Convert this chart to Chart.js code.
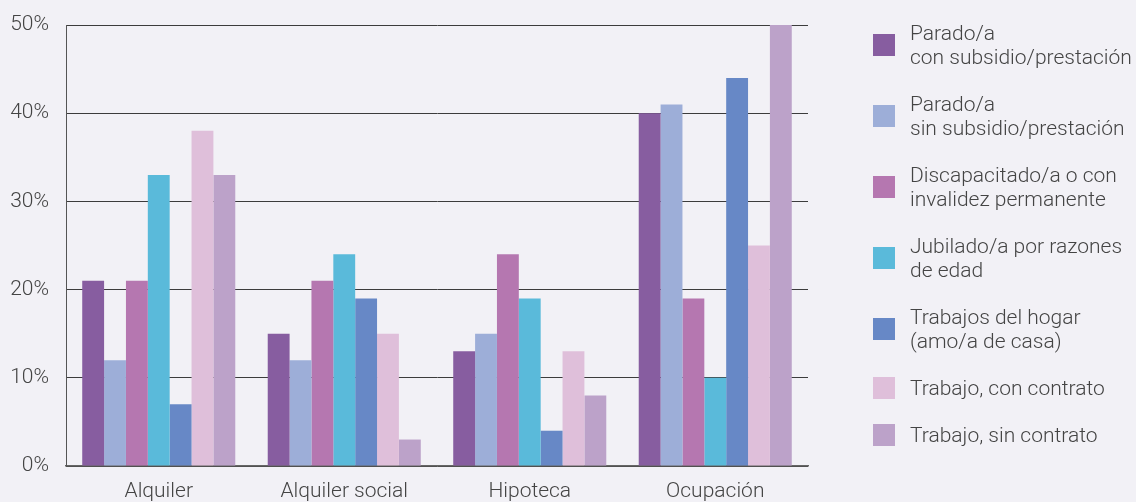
<!DOCTYPE html>
<html>
<head>
<meta charset="utf-8">
<script src="https://cdn.jsdelivr.net/npm/chart.js@4"></script>
<style>
  html, body { margin: 0; padding: 0; background: #f2f1f6; }
  #wrap { position: relative; width: 1136px; height: 502px; overflow: hidden; }
  #c { position: absolute; left: 0; top: 0; }
  #legend { position: absolute; left: 873px; top: 21px; display: flex; flex-direction: column; gap: 23px;
    font-family: Roboto, "Noto Sans", sans-serif; font-weight: 300; font-size: 21px; line-height: 24px; color: #444; }
  .item { display: flex; align-items: center; white-space: nowrap; }
  .box { width: 22px; height: 22px; flex: 0 0 22px; margin-right: 15px; }
</style>
</head>
<body>
<div id="wrap">
  <canvas id="c" width="1136" height="502"></canvas>
  <div id="legend"></div>
</div>
<script>
const categories = ["Alquiler", "Alquiler social", "Hipoteca", "Ocupación"];
const seriesNames = [
  ["Parado/a", "con subsidio/prestación"],
  ["Parado/a", "sin subsidio/prestación"],
  ["Discapacitado/a o con", "invalidez permanente"],
  ["Jubilado/a por razones", "de edad"],
  ["Trabajos del hogar", "(amo/a de casa)"],
  ["Trabajo, con contrato"],
  ["Trabajo, sin contrato"]
];
const paradoCon      = [21, 15, 13, 40];
const paradoSin      = [12, 12, 15, 41];
const discapacitado  = [21, 21, 24, 19];
const jubilado       = [33, 24, 19, 10];
const trabajosHogar  = [7, 19, 4, 44];
const trabajoCon     = [38, 15, 13, 25];
const trabajoSin     = [33, 3, 8, 50];
const colors = ["#875da0", "#9daed8", "#b577b0", "#5abada", "#6788c6", "#dfbfda", "#bca2c9"];
const yTicks = [0, 10, 20, 30, 40, 50];

const seriesValues = [paradoCon, paradoSin, discapacitado, jubilado, trabajosHogar, trabajoCon, trabajoSin];

const font = { family: "Roboto, 'Noto Sans', sans-serif", size: 21, weight: 300 };

const bgPlugin = {
  id: 'bg',
  beforeDraw(chart) {
    const ctx = chart.ctx;
    ctx.save();
    ctx.fillStyle = '#f2f1f6';
    ctx.fillRect(0, 0, chart.width, chart.height);
    ctx.restore();
  }
};

new Chart(document.getElementById('c'), {
  type: 'bar',
  data: {
    labels: categories,
    datasets: seriesValues.map((vals, i) => ({
      label: seriesNames[i].join(' '),
      data: vals,
      backgroundColor: colors[i],
      borderWidth: 0,
      barPercentage: 1.0,
      categoryPercentage: 0.825
    }))
  },
  options: {
    responsive: false,
    animation: false,
    devicePixelRatio: 1,
    layout: { padding: { top: 25, right: 328, left: 0, bottom: 0 } },
    plugins: { legend: { display: false }, tooltip: { enabled: false } },
    scales: {
      x: {
        grid: { display: false, drawTicks: false },
        border: { display: true, color: '#666', width: 1.5 },
        ticks: { font: font, color: '#444', padding: 13 },
        afterFit(scale) { scale.height = 36; }
      },
      y: {
        min: 0, max: 50,
        afterBuildTicks(scale) { scale.ticks = yTicks.map(v => ({ value: v })); },
        grid: { color: '#3c3c3c', lineWidth: 1, drawTicks: false },
        border: { display: true, color: '#555', width: 1 },
        ticks: { font: font, color: '#444', padding: 17, callback: v => v + '%' },
        afterFit(scale) { scale.width = 66; scale.paddingTop = 0; scale.paddingBottom = 0; }
      }
    }
  },
  plugins: [bgPlugin]
});

const legend = document.getElementById('legend');
seriesNames.forEach((lines, i) => {
  const item = document.createElement('div');
  item.className = 'item';
  const box = document.createElement('div');
  box.className = 'box';
  box.style.background = colors[i];
  const txt = document.createElement('div');
  txt.innerHTML = lines.map(l => l.replace(/&/g, '&amp;').replace(/</g, '&lt;')).join('<br>');
  item.appendChild(box);
  item.appendChild(txt);
  legend.appendChild(item);
});
</script>
</body>
</html>
